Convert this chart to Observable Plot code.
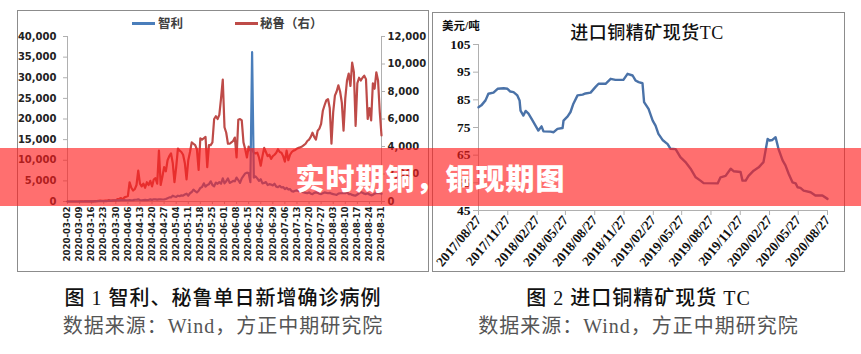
<!DOCTYPE html>
<html><head><meta charset="utf-8">
<script src="https://cdn.jsdelivr.net/npm/d3@7"></script>
<script src="https://cdn.jsdelivr.net/npm/@observablehq/plot@0.6"></script>
<style>
body{margin:0;background:#fff;}
#page{position:relative;width:861px;height:354px;overflow:hidden;background:#fff;}
.abs{position:absolute;}
.panel{position:absolute;border:1px solid #8c8c8c;box-sizing:border-box;}
.cap{position:absolute;text-align:center;font-family:"Liberation Serif","Noto Sans CJK SC",serif;font-size:20px;letter-spacing:1px;line-height:24px;white-space:nowrap;}
.legtxt{position:absolute;font-family:"Noto Sans CJK SC",sans-serif;font-weight:bold;font-size:12.5px;color:#404040;line-height:14px;white-space:nowrap;}
.legline{position:absolute;height:2.5px;}
#banner{position:absolute;left:0;top:148px;width:861px;height:58px;background:rgba(255,30,30,0.64);z-index:10;}
#banner span{position:absolute;left:0;width:861px;top:0;line-height:58px;text-align:center;color:#fff;font-family:"Noto Sans CJK SC",sans-serif;font-weight:900;font-size:29px;letter-spacing:1px;}
</style></head><body><div id="page">
<div class="panel" style="left:17px;top:10px;width:412px;height:262px;"></div>
<div class="panel" style="left:432px;top:12px;width:413px;height:260px;"></div>
<div id="c1" class="abs" style="left:0;top:0;"></div>
<div id="c2" class="abs" style="left:420px;top:0;"></div>
<div class="legline" style="left:132px;top:22px;width:23px;background:#4a7ebb;"></div>
<div class="legtxt" style="left:158px;top:16px;">智利</div>
<div class="legline" style="left:235px;top:22px;width:23px;background:#be4b48;"></div>
<div class="legtxt" style="left:260px;top:16px;">秘鲁（右）</div>
<div class="abs" style="left:442px;top:17px;font-family:'Liberation Serif','Noto Sans CJK SC',serif;font-weight:bold;font-size:11.5px;color:#111;white-space:nowrap;">美元/吨</div>
<div class="abs" style="left:530px;width:234px;top:18px;text-align:center;font-family:'Liberation Serif','Noto Sans CJK SC',serif;font-weight:500;font-size:18px;letter-spacing:0.5px;color:#111;white-space:nowrap;">进口铜精矿现货TC</div>
<div class="cap" style="left:17px;width:412px;top:286px;font-weight:500;color:#111;">图 1 智利、秘鲁单日新增确诊病例</div>
<div class="cap" style="left:17px;width:412px;top:314px;color:#555;">数据来源：Wind，方正中期研究院</div>
<div class="cap" style="left:432px;width:413px;top:286px;font-weight:500;color:#111;">图 2 进口铜精矿现货 TC</div>
<div class="cap" style="left:432px;width:413px;top:314px;color:#555;">数据来源：Wind，方正中期研究院</div>
<div id="banner"><span>实时期铜，铜现期图</span></div>
</div>
<script>
// ---- Figure 1: daily new confirmed cases, 2020-03-02 .. 2020-08-31 ----
const casesStart = "2020-03-02";
const chileCases = [
 0,0,0,1,0,1,1,3,5,6,10,10,13,20,25,45,46,82,98,96,104,102,96,114,168,220,164,304,293,308,
 289,310,300,350,300,300,310,300,330,430,420,530,350,300,350,400,350,400,500,400,550,500,450,500,550,480,500,600,800,1000,
 1000,1400,1200,1100,1400,1300,1500,1400,1700,1900,1400,2000,2300,2900,2500,2200,2600,3300,3500,4400,3600,4000,4200,4900,4000,3700,4600,4300,4700,4300,5600,
 4400,4900,5600,4500,4700,5000,4900,5800,5200,4500,5600,6200,6800,7000,6900,4700,36200,5800,6100,5600,5000,5400,4400,4500,4700,4000,4200,4100,3900,4300,
 3600,3500,3800,3400,3500,3000,3300,2900,3000,2500,2400,2600,2700,2500,2600,2300,2200,2100,2000,2200,1900,1800,2100,2200,2100,1900,1800,2000,2200,2100,2000,
 2100,1900,1800,1700,1600,1900,2000,2000,2100,2000,2300,1800,1800,1600,1500,1400,1700,2000,2300,2100,1900,1800,2000,1700,1500,1600,1900,2000,2100,2000,1900
];
const peruCases = [
 0,0,0,0,1,0,1,2,4,2,11,7,10,5,15,6,37,23,48,65,55,45,72,59,100,55,84,91,65,181,
 200,250,150,300,350,400,1400,1000,800,900,1200,2250,1300,1100,1300,1000,1400,1200,1500,1100,1600,1700,1300,3700,1200,1800,2500,2200,3000,3300,
 3500,2800,1400,2500,3850,3700,3600,3400,2800,1600,3000,3600,4300,4200,4100,3800,2300,4600,4500,4600,4700,2500,4100,4100,4300,6000,6200,6000,6300,7500,8870,
 5400,5000,4200,4200,4300,4400,4650,3200,5950,6000,5900,4300,3800,3200,4000,3700,3800,3550,3500,3550,3200,2600,3300,3900,3600,3300,3400,3100,3300,3400,
 3550,3800,3600,3550,3300,2900,3700,3000,3400,3600,3700,3750,3850,3900,3950,4000,4100,4200,4400,4500,4700,5000,4700,4500,5150,5300,5650,6600,7000,7350,7450,
 6800,4200,6500,7700,8000,8450,8000,7200,5150,7500,8800,9300,8400,10100,9400,5500,8600,9000,8800,9000,9150,8900,6000,6800,5900,8600,8200,9400,8800,6500,4800
];
const weekTicks = ["2020-03-02","2020-03-09","2020-03-16","2020-03-23","2020-03-30","2020-04-06","2020-04-13","2020-04-20","2020-04-27","2020-05-04","2020-05-11","2020-05-18","2020-05-25","2020-06-01","2020-06-08","2020-06-15","2020-06-22","2020-06-29","2020-07-06","2020-07-13","2020-07-20","2020-07-27","2020-08-03","2020-08-10","2020-08-17","2020-08-24","2020-08-31"];
const leftTicks = [0,5000,10000,15000,20000,25000,30000,35000,40000];
const rightTicks = [0,2000,4000,6000,8000,10000,12000];

// ---- Figure 2: imported copper concentrate spot TC (USD/t) ----
const tcDates = ["2017-08-27","2017-09-05","2017-09-18","2017-09-27","2017-10-13","2017-10-26","2017-11-14","2017-11-26","2017-12-05","2017-12-15","2017-12-27","2018-01-03","2018-01-06","2018-01-15","2018-01-22","2018-01-31","2018-02-13","2018-02-22","2018-03-03","2018-03-13","2018-03-19","2018-04-10","2018-04-20","2018-05-02","2018-05-18","2018-05-21","2018-06-03","2018-06-12","2018-06-21","2018-07-04","2018-07-20","2018-07-29","2018-08-14","2018-08-29","2018-09-08","2018-09-30","2018-10-16","2018-10-31","2018-11-25","2018-12-08","2018-12-24","2019-01-02","2019-01-12","2019-01-24","2019-01-29","2019-02-12","2019-02-25","2019-03-06","2019-03-15","2019-03-28","2019-04-13","2019-04-22","2019-05-08","2019-05-23","2019-06-08","2019-06-24","2019-07-10","2019-07-25","2019-08-04","2019-09-17","2019-09-26","2019-10-12","2019-10-28","2019-11-06","2019-11-28","2019-12-04","2019-12-14","2019-12-23","2020-01-08","2020-01-24","2020-02-08","2020-02-21","2020-02-27","2020-03-07","2020-03-17","2020-03-26","2020-04-08","2020-04-17","2020-04-27","2020-05-09","2020-05-19","2020-05-25","2020-06-03","2020-06-13","2020-07-05","2020-07-20","2020-08-11","2020-08-27"];
const tcValues = [82.3,83,84.8,87.2,87.6,89,89.2,89,88,87.8,86.6,84.8,81.1,79.3,81,80,77.5,75.7,73.9,75.4,73.6,73.5,73.3,74.5,74.8,77.5,79,80.6,83.6,86.6,86.9,87.3,87.6,89.6,90.8,90.8,92.6,92.2,92.2,94.4,93.8,92,91.4,91,84.2,81.7,77.5,75.7,72.7,70.5,69,67.3,67.2,64.3,62.5,60.1,57,55.8,54.9,54.8,57,57.5,60.1,59.2,58.9,55.8,55.8,57.5,59.4,60.6,62.5,70.9,70.3,70.5,71.5,67.3,63.1,61.3,58.3,55.2,54.8,53.4,53.2,52.2,51.6,50.4,50.4,49.2];
const tcTicks = ["2017/08/27","2017/11/27","2018/02/27","2018/05/27","2018/08/27","2018/11/27","2019/02/27","2019/05/27","2019/08/27","2019/11/27","2020/02/27","2020/05/27","2020/08/27"];
const tcYTicks = [45,55,65,75,85,95,105];

// ---- build figure 1 ----
const k = 40000 / 12000;
const t0 = Date.parse(casesStart + "T00:00:00Z");
const days = chileCases.map((_, i) => new Date(t0 + i * 864e5));
const rows = days.map((d, i) => ({date: d, chile: chileCases[i], peru: peruCases[i] * k}));
const wk = weekTicks.map(s => new Date(s + "T00:00:00Z"));
const fmt = d3.format(",");
const axisGray = "#b0b0b0";

const fig1 = Plot.plot({
  width: 430, height: 272,
  marginLeft: 67, marginRight: 49, marginTop: 36, marginBottom: 71,
  x: {type: "utc", domain: [days[0], days[days.length - 1]]},
  y: {domain: [0, 40000]},
  style: {fontFamily: "DejaVu Sans, sans-serif", fontWeight: "bold", fontSize: "10px", color: "#222", background: "transparent", overflow: "visible"},
  marks: [
    Plot.ruleY([0], {stroke: axisGray}),
    Plot.ruleX([days[0]], {stroke: axisGray}),
    Plot.ruleX([days[days.length - 1]], {stroke: axisGray}),
    Plot.axisY({ticks: leftTicks, tickFormat: fmt, tickSize: 4, tickPadding: 7, fontSize: 10, stroke: axisGray, fill: "#222", label: null}),
    Plot.axisY({anchor: "right", ticks: rightTicks.map(v => v * k), tickFormat: d => fmt(Math.round(d / k)), tickSize: 3, tickPadding: 3, fontSize: 10, stroke: axisGray, fill: "#222", label: null}),
    Plot.axisX({ticks: wk, tickFormat: d3.utcFormat("%Y-%m-%d"), tickRotate: -90, tickSize: 3, tickPadding: 2, fontSize: 8.6, stroke: axisGray, fill: "#222", label: null}),
    Plot.line(rows, {x: "date", y: "peru", stroke: "#be4b48", strokeWidth: 2.2, strokeLinejoin: "round"}),
    Plot.line(rows, {x: "date", y: "chile", stroke: "#4a7ebb", strokeWidth: 2.2, strokeLinejoin: "round"})
  ]
});
document.getElementById("c1").appendChild(fig1);

// ---- build figure 2 ----
const tcRows = tcDates.map((s, i) => ({date: new Date(s + "T00:00:00Z"), v: tcValues[i]}));
const tcTickDates = tcTicks.map(s => new Date(s.replace(/\//g, "-") + "T00:00:00Z"));
const fig2 = Plot.plot({
  width: 441, height: 272,
  marginLeft: 58, marginRight: 34, marginTop: 44, marginBottom: 62,
  x: {type: "utc", domain: [tcTickDates[0], tcTickDates[tcTickDates.length - 1]]},
  y: {domain: [45, 105]},
  style: {fontFamily: "Liberation Serif, serif", fontWeight: "bold", fontSize: "13px", color: "#111", background: "transparent", overflow: "visible"},
  marks: [
    Plot.ruleY([45], {stroke: axisGray}),
    Plot.ruleX([tcTickDates[0]], {stroke: axisGray}),
    Plot.axisY({ticks: tcYTicks, tickSize: 5, tickPadding: 3, fontSize: 13.5, stroke: axisGray, fill: "#111", label: null}),
    Plot.axisX({ticks: tcTickDates, tickFormat: d3.utcFormat("%Y/%m/%d"), tickRotate: -50, tickSize: 5, tickPadding: 2, fontSize: 13.5, stroke: axisGray, fill: "#111", label: null}),
    Plot.line(tcRows, {x: "date", y: "v", stroke: "#4a72a8", strokeWidth: 2.4, strokeLinejoin: "round"})
  ]
});
document.getElementById("c2").appendChild(fig2);
</script>
</body></html>
